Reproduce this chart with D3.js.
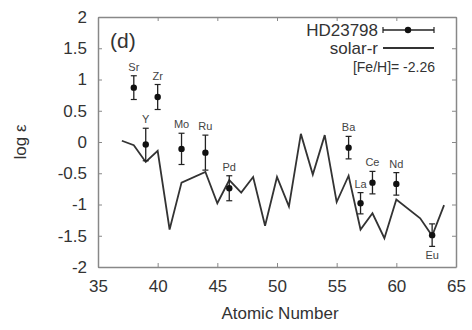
<!DOCTYPE html>
<meta charset="utf-8" />
<title>HD23798 abundances</title>
<script src="https://d3js.org/d3.v7.min.js"></script>
<style>
body {
    margin: 0;
    background: #fff;
}
text {
    font-family: 'Liberation Sans', Arial, sans-serif;
    fill: #333;
}
.axis text {
    font-size: 17px;
}
.axis path,
.axis line {
    stroke: #888;
}
.elem {
    font-size: 11px;
    fill: #444;
}
</style>
<div id="chart"></div>
<script>
// solar r-process pattern (scaled)
var solarZ = [37, 38, 39, 40, 41, 42, 44, 45, 46, 47, 48, 49, 50, 51, 52, 53, 54, 55, 56, 57, 58, 59, 60, 62, 63, 64];
var solarR = [0.02, -0.05, -0.32, -0.14, -1.40, -0.65, -0.48, -0.98, -0.61, -0.81, -0.56, -1.34, -0.56, -1.03, 0.13, -0.52, 0.11, -0.96, -0.54, -1.40, -1.14, -1.54, -0.92, -1.22, -1.50, -1.01];

// HD23798 measured abundances
var elements = ["Sr", "Y", "Zr", "Mo", "Ru", "Pd", "Ba", "La", "Ce", "Nd", "Eu"];
var starZ = [38, 39, 40, 42, 44, 46, 56, 57, 58, 60, 63];
var logEps = [0.87, -0.04, 0.72, -0.11, -0.17, -0.74, -0.09, -0.98, -0.65, -0.67, -1.49];
var errs = [0.19, 0.26, 0.20, 0.25, 0.28, 0.20, 0.18, 0.17, 0.18, 0.18, 0.18];

var xTicks = [35, 40, 45, 50, 55, 60, 65];
var yTicks = [-2, -1.5, -1, -0.5, 0, 0.5, 1, 1.5, 2];

var width = 472, height = 330;
var margin = { top: 17, right: 16, bottom: 63, left: 98 };
var w = width - margin.left - margin.right,
    h = height - margin.top - margin.bottom;

var svg = d3.select("#chart").append("svg")
    .attr("width", width)
    .attr("height", height);
var g = svg.append("g")
    .attr("transform", "translate(" + margin.left + "," + margin.top + ")");

var x = d3.scaleLinear().domain([35, 65]).range([0, w]);
var y = d3.scaleLinear().domain([-2, 2]).range([h, 0]);

// axes, ticks pointing inward, mirrored on top/right
g.append("g").attr("class", "axis")
    .attr("transform", "translate(0," + h + ")")
    .call(d3.axisBottom(x).tickValues(xTicks).tickSizeInner(-4).tickSizeOuter(0).tickPadding(10))
    .call(function(s) { s.selectAll("text").attr("dy", "0.9em"); });
g.append("g").attr("class", "axis")
    .call(d3.axisTop(x).tickValues(xTicks).tickSizeInner(-4).tickSizeOuter(0).tickFormat(""));
g.append("g").attr("class", "axis")
    .call(d3.axisLeft(y).tickValues(yTicks).tickSizeInner(-4).tickSizeOuter(0).tickPadding(11)
        .tickFormat(function(d) { return String(d); }));
g.append("g").attr("class", "axis")
    .attr("transform", "translate(" + w + ",0)")
    .call(d3.axisRight(y).tickValues(yTicks).tickSizeInner(-4).tickSizeOuter(0).tickFormat(""));

g.selectAll(".axis .domain").attr("stroke-width", 1.5);

// solar-r line
var solar = solarZ.map(function(z, i) { return [z, solarR[i]]; });
g.append("path")
    .datum(solar)
    .attr("fill", "none")
    .attr("stroke", "#333")
    .attr("stroke-width", 1.8)
    .attr("stroke-linejoin", "miter")
    .attr("d", d3.line().x(function(d) { return x(d[0]); }).y(function(d) { return y(d[1]); }));

// star points
var stars = elements.map(function(el, i) {
    return { el: el, z: starZ[i], v: logEps[i], e: errs[i] };
});
var pts = g.selectAll(".pt").data(stars).enter().append("g").attr("class", "pt");
pts.append("line")
    .attr("x1", function(d) { return x(d.z); })
    .attr("x2", function(d) { return x(d.z); })
    .attr("y1", function(d) { return y(d.v + d.e); })
    .attr("y2", function(d) { return y(d.v - d.e); })
    .attr("stroke", "#222").attr("stroke-width", 1.3);
[1, -1].forEach(function(sgn) {
    pts.append("line")
        .attr("x1", function(d) { return x(d.z) - 3; })
        .attr("x2", function(d) { return x(d.z) + 3; })
        .attr("y1", function(d) { return y(d.v + sgn * d.e); })
        .attr("y2", function(d) { return y(d.v + sgn * d.e); })
        .attr("stroke", "#222").attr("stroke-width", 1.2);
});
pts.append("circle")
    .attr("cx", function(d) { return x(d.z); })
    .attr("cy", function(d) { return y(d.v); })
    .attr("r", 3.2)
    .attr("fill", "#111");
pts.append("text")
    .attr("class", "elem")
    .attr("text-anchor", "middle")
    .attr("x", function(d) { return x(d.z); })
    .attr("y", function(d) {
        return d.el == "Eu" ? y(d.v - d.e) + 13 : y(d.v + d.e) - 5;
    })
    .text(function(d) { return d.el; });

// panel tag
g.append("text")
    .attr("x", 12).attr("y", 31)
    .style("font-size", "21px")
    .text("(d)");

// legend
var lg = g.append("g");
lg.append("text").attr("x", 280).attr("y", 19)
    .attr("text-anchor", "end").style("font-size", "17px").text("HD23798");
lg.append("line").attr("x1", 285).attr("x2", 336).attr("y1", 13).attr("y2", 13)
    .attr("stroke", "#222").attr("stroke-width", 1.3);
[285, 336].forEach(function(px) {
    lg.append("line").attr("x1", px).attr("x2", px).attr("y1", 10).attr("y2", 16)
        .attr("stroke", "#222").attr("stroke-width", 1.2);
});
lg.append("circle").attr("cx", 310).attr("cy", 13).attr("r", 3.2).attr("fill", "#111");
lg.append("text").attr("x", 280).attr("y", 37)
    .attr("text-anchor", "end").style("font-size", "17px").text("solar-r");
lg.append("line").attr("x1", 285).attr("x2", 336).attr("y1", 31).attr("y2", 31)
    .attr("stroke", "#333").attr("stroke-width", 1.8);
lg.append("text").attr("x", 337).attr("y", 55)
    .attr("text-anchor", "end").style("font-size", "14px").text("[Fe/H]= -2.26");

// axis titles
svg.append("text")
    .attr("x", margin.left + w / 2 + 3).attr("y", 319)
    .attr("text-anchor", "middle").style("font-size", "17px")
    .text("Atomic Number");
svg.append("text")
    .attr("transform", "translate(26," + (margin.top + h / 2) + ") rotate(-90)")
    .attr("text-anchor", "middle").style("font-size", "17px")
    .text("log ε");
</script>
